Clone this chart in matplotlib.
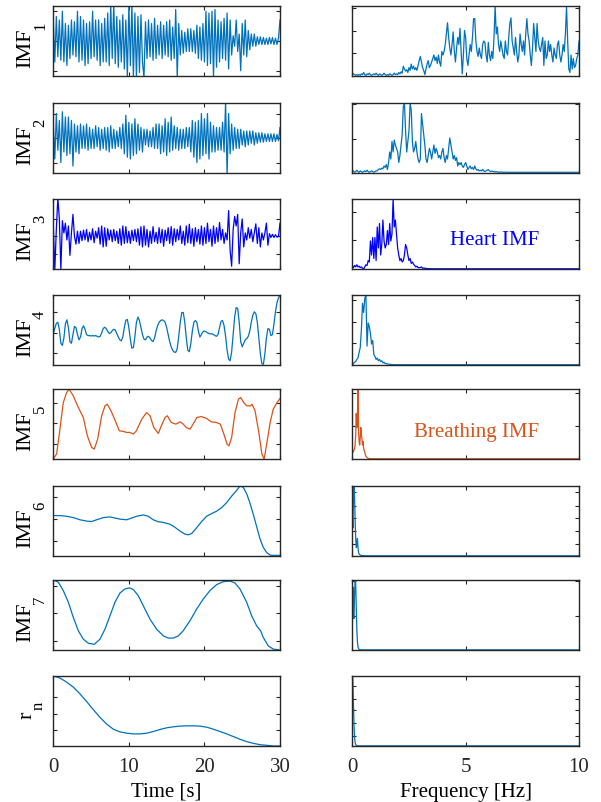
import matplotlib
matplotlib.use("Agg")
import matplotlib.pyplot as plt
import numpy as np

plt.rcParams['font.family'] = ['Liberation Serif', 'DejaVu Serif']
plt.rcParams['font.size'] = 15

BLUE = '#0072BD'
PURE_BLUE = '#0000FF'
ORANGE = '#D95319'
FRAME = '#262626'

# ---- time-domain IMFs (0..30 s) ----
imf1 = [0.55, -0.6, 0.7, -0.45, 0.6,
        -0.55, 0.85, -0.6, 0.5, -0.7,
        0.45, -0.5, 0.6, -0.4, 0.55,
        -0.45, 0.85, -0.6, 0.7, -0.55,
        0.6, -0.7, 0.5, -0.65, 0.55,
        -0.5, 0.85, -0.45, 0.6, -0.55,
        0.6, -0.7, 0.5, -0.6, 0.65,
        -0.6, 0.8, -0.7, 1.05, -0.5,
        1.05, -0.65, 0.7, -0.75, 0.6,
        -0.6, 0.75, -0.8, 0.6, -1.05,
        1.05, -0.7, 1.05, -1.05, 0.8,
        -1.05, 0.7, -0.9, 0.75, -0.6,
        -1.05, 0.55, -0.5, 0.6, -0.45,
        0.5, -0.55, 0.65, -0.5, 0.45,
        -0.4, 0.55, -0.5, 0.45, -0.4,
        0.55, -0.45, 0.6, -0.55, 0.4,
        -0.5, 0.9, -1.05, 0.5, -0.4,
        0.3, -0.35, 0.25, -0.3, 0.35,
        -0.3, 0.35, -0.3, 0.3, -0.35,
        0.45, -0.5, 0.4, -0.55, 0.5,
        -0.6, 0.85, -0.7, 0.8, -0.65,
        0.85, -1.05, 0.9, -0.75, 0.6,
        -0.6, 0.55, -0.5, 0.65, -0.55,
        0.8, -0.8, 0.6, -0.4, 0.15,
        -0.15, 0.6, -0.3, 0.2, -0.85,
        0.5, -0.4, 0.6, -0.45, 0.3,
        -0.25, 0.2, -0.15, 0.2, -0.15,
        0.12, -0.1, 0.12, -0.1, 0.1,
        -0.1, 0.08, -0.1, 0.1, -0.08,
        0.1, -0.1, 0.08, -0.1, 0.08,
        0.6]

imf2 = [0.4, -0.6, 0.7, -0.35, 0.5,
        -0.7, 0.75, -0.4, 0.6, -0.5,
        0.6, -0.45, 0.5, -0.8, 0.4,
        -0.4, 0.35, -0.45, 0.4, -0.3,
        0.35, -0.3, 0.4, -0.35, 0.3,
        -0.3, 0.25, -0.3, 0.35, -0.25,
        0.3, -0.35, 0.25, -0.3, 0.3,
        -0.35, 0.3, -0.4, 0.35, -0.3,
        0.25, -0.3, 0.2, -0.25, 0.3,
        -0.3, 0.4, -0.45, 0.65, -0.55,
        0.45, -0.6, 0.4, -0.5, 0.55,
        -0.45, 0.4, -0.35, 0.3, -0.4,
        0.25, -0.2, 0.25, -0.25, 0.2,
        -0.25, 0.3, -0.3, 0.4, -0.3,
        0.4, -0.45, 0.35, -0.4, 0.55,
        -0.5, 0.45, -0.4, 0.6, -0.35,
        0.35, -0.3, 0.3, -0.35, 0.25,
        -0.3, 0.25, -0.3, 0.3, -0.25,
        0.3, -0.4, 0.5, -0.55, 0.45,
        -0.7, 0.5, -0.6, 0.7, -0.5,
        0.55, -0.45, 0.7, -0.6, 0.45,
        -0.4, 0.35, -0.4, 0.3, -0.35,
        0.3, -0.35, 0.45, -0.4, 1.05,
        -1.05, 0.7, -0.45, 0.4, -0.35,
        0.3, -0.3, 0.25, -0.3, 0.25,
        -0.2, 0.2, -0.25, 0.2, -0.2,
        0.2, -0.15, 0.2, -0.2, 0.15,
        -0.15, 0.15, -0.12, 0.15, -0.12,
        0.12, -0.1, 0.12, -0.1, 0.12,
        -0.1, 0.12, -0.1, 0.1, -0.08,
        0.3]

imf3 = [0.3, -0.95, 0.2, 1.1, 0.5,
        -0.95, 0.45, 0.1, 0.38, -0.1,
        0.3, -0.54, 0.1, 0.63, 0.0,
        -0.22, 0.15, -0.2, 0.15, -0.12,
        0.18, -0.1, 0.2, -0.15, 0.12,
        -0.1, 0.22, -0.18, 0.15, -0.05,
        0.25, -0.22, 0.3, -0.3, 0.25,
        -0.28, 0.22, -0.1, 0.18, -0.15,
        0.2, -0.12, 0.15, -0.2, 0.22,
        -0.25, 0.3, -0.2, 0.28, -0.18,
        0.15, -0.2, 0.18, -0.12, 0.2,
        -0.15, 0.22, -0.25, 0.28, -0.3,
        0.3, -0.25, 0.2, -0.3, 0.15,
        -0.2, 0.28, -0.15, 0.12, -0.2,
        0.25, -0.18, 0.2, -0.28, 0.18,
        -0.12, 0.25, -0.2, 0.28, -0.25,
        0.22, -0.15, 0.2, -0.1, 0.3,
        -0.2, 0.15, -0.25, 0.3, -0.18,
        0.35, -0.2, 0.22, -0.28, 0.25,
        -0.15, 0.2, -0.22, 0.3, -0.25,
        0.25, -0.2, 0.38, -0.15, 0.2,
        -0.28, 0.3, -0.2, 0.25, -0.15,
        0.4, -0.1, 0.2, -0.2, 0.1,
        -0.1, 0.74, -0.4, -0.85, 0.2,
        0.57, 0.3, 0.63, -0.78, 0.1,
        0.5, -0.3, 0.1, -0.1, 0.25,
        -0.05, 0.2, -0.15, 0.1, 0.36,
        -0.2, 0.25, -0.3, 0.1, -0.1,
        0.1, 0.38, -0.25, 0.08, -0.03,
        0.06, -0.03, 0.05, -0.02, 0.0,
        0.38]

imf4 = [-0.02, 0.12, 0.27, 0.3, 0.1,
        -0.3, -0.36, -0.15, 0.25, 0.37,
        0.15, -0.25, -0.3, -0.05, 0.18,
        0.15, -0.05, -0.2, -0.12, 0.12,
        0.2, 0.1, -0.05, -0.08, -0.08,
        -0.09, -0.08, -0.09, -0.08, -0.1,
        -0.12, -0.1, 0.0, 0.12, 0.16,
        0.12, 0.04, -0.02, 0.0, 0.06,
        0.1, 0.08, -0.02, -0.12, -0.2,
        -0.23, -0.12, 0.15, 0.36, 0.38,
        0.15, -0.2, -0.44, -0.42, -0.1,
        0.3, 0.45, 0.35, 0.15, -0.05,
        -0.18, -0.2, -0.12, -0.1, -0.15,
        -0.22, -0.25, -0.15, 0.05, 0.2,
        0.3, 0.35, 0.37, 0.35, 0.3,
        0.15, -0.05, -0.25, -0.4, -0.5,
        -0.55, -0.56, -0.45, -0.1, 0.3,
        0.58, 0.58, 0.3, -0.15, -0.5,
        -0.54, -0.3, 0.05, 0.3, 0.35,
        0.3, 0.05, -0.12, -0.05, 0.03,
        0.05, 0.03, 0.0, -0.02, -0.03,
        -0.03, -0.05, -0.08, -0.1, -0.05,
        0.15, 0.33, 0.35, 0.2, -0.1,
        -0.5, -0.75, -0.8, -0.55, -0.05,
        0.45, 0.72, 0.7, 0.3, -0.25,
        -0.4, -0.3, -0.2, -0.17, -0.1,
        0.05, 0.3, 0.5, 0.6, 0.55,
        0.3, -0.15, -0.6, -0.88, -0.9,
        -0.6, -0.15, 0.12, 0.1, -0.08,
        -0.05, 0.25, 0.6, 0.86, 1.0,
        1.08]

t5 = [0.0, 0.44, 0.88, 1.32, 1.76, 2.1, 2.65, 3.31, 3.97, 4.5,
      5.07, 5.42, 5.87, 6.4, 6.84, 7.15, 7.64, 8.2, 8.74, 9.26,
      9.7, 10.1, 10.6, 11.0, 11.7, 12.35, 12.8, 13.3, 13.9, 14.3,
      14.8, 15.1, 15.6, 16.2, 16.8, 17.2, 17.6, 18.1, 18.5, 19.0,
      19.6, 20.3, 20.9, 21.6, 22.1, 22.5, 23.0, 23.25, 23.6, 24.05,
      24.5, 24.8, 25.2, 25.6, 26.1, 26.3, 26.7, 27.2, 27.6, 27.9,
      28.2, 28.7, 29.1, 29.6, 30.0]
imf5 = [-1.75, -1.5, -0.28, 1.03, 1.52, 1.69, 1.36, 0.79, 0.3, -0.6,
        -1.18, -1.26, -0.77, 0.38, 0.87, 0.95, 0.62, 0.13, -0.36, -0.39,
        -0.44, -0.44, -0.52, -0.36, 0.21, 0.54, 0.38, -0.2, -0.49, -0.11,
        0.3, 0.38, 0.05, -0.03, 0.08, -0.03, -0.2, -0.28, -0.03, 0.3,
        0.34, 0.25, 0.08, 0.05, -0.03, -0.44, -1.02, -1.1, -0.69, 0.54,
        1.2, 1.28, 1.03, 0.87, 0.87, 0.95, 0.62, -0.44, -1.51, -1.75,
        -1.1, 0.05, 0.7, 1.03, 1.23]

t6 = [0.0, 0.88, 1.76, 2.65, 3.53, 4.41, 5.07, 5.73, 6.62, 7.5,
      8.16, 8.82, 9.7, 10.37, 11.03, 11.91, 12.57, 13.23, 13.9, 14.56,
      15.44, 16.1, 16.76, 17.42, 17.87, 18.31, 18.97, 19.63, 20.29, 20.95,
      21.61, 22.28, 22.94, 23.6, 24.26, 24.7, 25.14, 25.59, 26.03, 26.47,
      26.91, 27.35, 27.79, 28.23, 28.76, 29.33, 30.0]
imf6 = [0.14, 0.14, 0.11, 0.05, -0.05, -0.11, -0.13, -0.05, 0.05, 0.08,
        0.03, -0.02, -0.05, 0.03, 0.11, 0.17, 0.11, -0.05, -0.14, -0.17,
        -0.25, -0.39, -0.56, -0.70, -0.73, -0.67, -0.41, -0.13, 0.11, 0.23,
        0.34, 0.5, 0.73, 1.02, 1.28, 1.48, 1.42, 1.13, 0.7, 0.19,
        -0.36, -0.91, -1.3, -1.53, -1.66, -1.66, -1.66]

t7 = [0.0, 0.66, 1.32, 1.99, 2.65, 3.31, 3.97, 4.63, 5.43, 6.18,
      6.84, 7.5, 8.16, 8.82, 9.48, 10.06, 10.59, 11.25, 11.91, 12.79,
      13.67, 14.56, 15.22, 15.88, 16.54, 17.2, 18.09, 18.97, 19.85, 20.73,
      21.61, 22.5, 23.38, 24.04, 24.7, 25.59, 26.25, 26.91, 27.44, 27.79,
      28.45, 29.12, 30.0]
imf7 = [1.23, 1.15, 0.84, 0.41, -0.15, -0.64, -0.95, -1.1, -1.14, -0.95,
        -0.58, -0.09, 0.41, 0.75, 0.9, 0.94, 0.88, 0.65, 0.28, -0.21,
        -0.58, -0.83, -0.91, -0.91, -0.83, -0.64, -0.27, 0.16, 0.53, 0.84,
        1.06, 1.17, 1.19, 1.12, 0.9, 0.41, -0.09, -0.46, -0.64, -0.89,
        -1.2, -1.32, -1.35]

residue = [1.0, 0.971, 0.913, 0.841, 0.745, 0.635, 0.519, 0.409, 0.313, 0.24,
           0.202, 0.183, 0.173, 0.173, 0.183, 0.207, 0.236, 0.26, 0.274, 0.284,
           0.288, 0.288, 0.284, 0.269, 0.24, 0.207, 0.173, 0.135, 0.096, 0.063,
           0.038, 0.019, 0.01, 0.0, 0.0]

# ---- normalised spectra, sampled from 0 Hz at a fixed step ----
spec1 = [0.04, 0.03, 0.02, 0.01, 0.02, 0.01, 0.02, 0.01, 0.03, 0.02,
         0.05, 0.02, 0.01, 0.03, 0.02, 0.04, 0.02, 0.01, 0.02, 0.03,
         0.02, 0.04, 0.02, 0.01, 0.03, 0.02, 0.01, 0.02, 0.04, 0.02,
         0.01, 0.02, 0.01, 0.03, 0.02, 0.01, 0.02, 0.04, 0.02, 0.03,
         0.02, 0.05, 0.03, 0.06, 0.04, 0.14, 0.1, 0.07, 0.09, 0.05,
         0.12, 0.08, 0.17, 0.1, 0.14, 0.09, 0.12, 0.08, 0.15, 0.22,
         0.28, 0.2, 0.12, 0.08, 0.02, 0.1, 0.17, 0.22, 0.12, 0.15,
         0.2, 0.25, 0.3, 0.22, 0.27, 0.18, 0.3, 0.2, 0.14, 0.35,
         0.3, 0.35, 0.45, 0.6, 0.76, 0.55, 0.4, 0.3, 0.45, 0.63,
         0.35, 0.2, 0.4, 0.55, 0.45, 0.68, 0.35, 0.03, 0.3, 0.65,
         0.55, 0.25, 0.15, 0.3, 0.45, 0.35, 0.55, 0.82, 0.82, 0.5,
         0.35, 0.28, 0.4, 0.3, 0.25, 0.45, 0.5, 0.48, 0.3, 0.2,
         0.48, 0.3, 0.22, 0.35, 0.25, 0.55, 1.0, 0.6, 0.7, 0.45,
         0.35, 0.5, 0.4, 0.3, 0.25, 0.5, 0.35, 0.3, 0.55, 0.75,
         0.83, 0.5, 0.4, 0.3, 0.55, 0.35, 0.2, 0.3, 0.6, 0.45,
         0.35, 0.5, 0.3, 0.6, 0.82, 0.6, 0.5, 0.3, 0.15, 0.4,
         0.75, 0.55, 0.35, 0.75, 0.5, 0.4, 0.35, 0.45, 0.55, 0.15,
         0.5, 0.25, 0.3, 0.5, 0.35, 0.45, 0.3, 0.2, 0.4, 0.3,
         0.25, 0.45, 0.5, 0.3, 0.2, 0.3, 0.45, 0.35, 0.6, 1.0,
         0.5, 0.1, 0.05, 0.3, 0.1, 0.25, 0.12, 0.15, 0.25, 0.3,
         0.5]

spec2 = [0.02, 0.03, 0.01, 0.02, 0.04, 0.02, 0.01, 0.03, 0.02, 0.01,
         0.02, 0.03, 0.02, 0.04, 0.02, 0.01, 0.02, 0.03, 0.02, 0.01,
         0.02, 0.03, 0.03, 0.05, 0.06, 0.05, 0.07, 0.06, 0.1, 0.08,
         0.12, 0.05, 0.15, 0.3, 0.2, 0.45, 0.3, 0.47, 0.4, 0.35,
         0.3, 0.15, 0.25, 0.4, 0.55, 0.95, 1.0, 0.6, 0.3, 0.45,
         0.6, 1.0, 0.9, 0.45, 0.3, 0.35, 0.45, 0.3, 0.2, 0.15,
         0.2, 0.85, 0.7, 0.55, 0.4, 0.2, 0.15, 0.25, 0.35, 0.3,
         0.2, 0.3, 0.4, 0.28, 0.35, 0.3, 0.22, 0.25, 0.2, 0.3,
         0.35, 0.22, 0.15, 0.25, 0.2, 0.35, 0.5, 0.4, 0.3, 0.2,
         0.25, 0.18, 0.22, 0.1, 0.15, 0.12, 0.15, 0.1, 0.08, 0.12,
         0.15, 0.1, 0.05, 0.08, 0.1, 0.06, 0.08, 0.05, 0.1, 0.06,
         0.04, 0.05, 0.03, 0.04, 0.03, 0.05, 0.03, 0.02, 0.03, 0.04,
         0.05, 0.03, 0.02, 0.03, 0.02, 0.02, 0.015, 0.02, 0.015, 0.01,
         0.015, 0.01, 0.015, 0.01, 0.01, 0.012, 0.01, 0.01, 0.01, 0.01,
         0.01]

spec3 = [0.04, 0.02, 0.05, 0.03, 0.06, 0.03, 0.04, 0.02, 0.03, 0.01,
         0.0, 0.03, 0.06, 0.05, 0.12, 0.1, 0.4, 0.2, 0.45, 0.15,
         0.45, 0.12, 0.6, 0.3, 0.65, 0.2, 0.35, 0.7, 0.4, 0.3,
         0.35, 0.55, 0.35, 0.65, 0.4, 0.5, 1.0, 0.6, 0.7, 0.5,
         0.3, 0.2, 0.12, 0.15, 0.1, 0.12, 0.2, 0.35, 0.3, 0.2,
         0.12, 0.15, 0.08, 0.1, 0.07, 0.05, 0.03, 0.04, 0.02, 0.02,
         0.02, 0.03, 0.01, 0.015, 0.01, 0.008, 0.006, 0.005, 0.004, 0.004,
         0.003]

spec4 = [0.0, 0.02, 0.04, 0.05, 0.08, 0.1, 0.18, 0.25, 0.5, 0.88,
         0.75, 0.95, 1.0, 0.27, 0.6, 0.55, 0.45, 0.3, 0.35, 0.15,
         0.12, 0.08, 0.1, 0.06, 0.08, 0.05, 0.06, 0.03, 0.04, 0.02,
         0.02, 0.015, 0.01, 0.01, 0.008, 0.006, 0.005, 0.005, 0.004, 0.004,
         0.004]

spec5 = [0.12, 0.12, 0.1, 0.13, 0.15, 0.2, 0.35, 0.65, 0.45, 0.6,
         1.0, 0.4, 0.25, 0.2, 0.3, 0.45, 0.35, 0.3, 0.2, 0.25,
         0.15, 0.12, 0.1, 0.06, 0.04, 0.03, 0.02, 0.015, 0.01, 0.008,
         0.006, 0.005, 0.005, 0.004, 0.004, 0.004, 0.003, 0.003, 0.003, 0.003,
         0.003]

spec6 = [0.6, 0.4, 0.8, 1.0, 0.85, 0.5, 0.25, 0.12, 0.15, 0.25,
         0.12, 0.05, 0.03, 0.02, 0.015, 0.01, 0.008, 0.006, 0.005, 0.005,
         0.004, 0.004, 0.003, 0.003, 0.003]

spec7 = [0.3, 0.9, 0.5, 0.45, 0.8, 1.0, 0.95, 0.6, 0.3, 0.12,
         0.05, 0.02, 0.01, 0.006, 0.004, 0.003, 0.003, 0.002, 0.002, 0.002,
         0.002]

spec8 = [1.0, 0.95, 0.6, 0.3, 0.12, 0.05, 0.02, 0.01, 0.005, 0.003,
         0.002, 0.002, 0.002]

spec_steps = [0.05, 0.05, 0.05, 0.05, 0.025, 0.025, 0.025, 0.025]


def freq_axis(vals, step):
    f = np.arange(len(vals)) * step
    if f[-1] < 10:
        # flat remainder of the spectrum up to 10 Hz
        return np.append(f, 10.0), np.append(vals, vals[-1])
    return f, np.asarray(vals)


lin = lambda v: np.linspace(0, 30, len(v))

signals = [(lin(imf1), imf1), (lin(imf2), imf2), (lin(imf3), imf3), (lin(imf4), imf4),
           (t5, imf5), (t6, imf6), (t7, imf7), (lin(residue), residue)]
spectra = [spec1, spec2, spec3, spec4, spec5, spec6, spec7, spec8]
colors = [BLUE, BLUE, PURE_BLUE, BLUE, ORANGE, BLUE, BLUE, BLUE]
# row label: main text and its subscript
labels = [('IMF', '1'), ('IMF', '2'), ('IMF', '3'), ('IMF', '4'),
          ('IMF', '5'), ('IMF', '6'), ('IMF', '7'), ('r', 'n')]

left_ylim = [(-1, 1), (-1, 1), (-0.93, 1.07), (-0.92, 1.08),
             (-1.75, 1.7), (-1.69, 1.48), (-1.35, 1.23), (0, 1)]
left_yticks = [[-0.85, 0, 0.85], [-0.7, 0, 0.7], [-0.5, 0, 0.5], [-0.59, 0, 0.59],
               [-1, 0, 1], [-1, 0, 1], [-1, 0, 1], [0.23, 0.46, 0.70]]
right_yticks = [[0.33, 0.64, 0.97], [0.49, 0.98], [0.41, 0.81], [0.32, 0.62, 0.93],
                [0.47, 0.95], [0.17, 0.36, 0.54, 0.72, 0.91], [0.48, 0.98],
                [0.15, 0.33, 0.51, 0.67, 0.86]]

W, H = 601, 803
fig = plt.figure(figsize=(W / 100, H / 100), dpi=100)

row_top = [7, 104, 200, 296, 390, 487, 581, 677]
row_h = 70
col_x = [53.3, 352.3]
col_w = 226.7


def style(ax):
    for s in ax.spines.values():
        s.set_color(FRAME)
        s.set_linewidth(1.0)
    ax.tick_params(direction='in', top=True, right=True, length=3, width=0.8,
                   colors=FRAME, labelcolor='#262626', pad=8)
    ax.set_yticklabels([])


def px(x, y):
    return x / W, 1 - y / H


for i in range(8):
    bottom = 1 - (row_top[i] + row_h) / H
    axl = fig.add_axes([col_x[0] / W, bottom, col_w / W, row_h / H])
    axr = fig.add_axes([col_x[1] / W, bottom, col_w / W, row_h / H])

    t, y = signals[i]
    axl.plot(t, y, color=colors[i], lw=0.9)
    axl.set_xlim(0, 30)
    axl.set_ylim(*left_ylim[i])
    axl.set_xticks([0, 10, 20, 30])
    axl.set_yticks(left_yticks[i])
    style(axl)

    # rotated row label with a dropped subscript
    cy = row_top[i] + row_h / 2
    main, sub = labels[i]
    if main == 'IMF':
        fig.text(*px(26, cy + 6), main, rotation=90, ha='center', va='center', fontsize=16)
        fig.text(*px(40, cy - 16), sub, rotation=90, ha='center', va='center', fontsize=12)
    else:
        fig.text(*px(27, cy + 3), main, rotation=90, ha='center', va='center', fontsize=16)
        fig.text(*px(39, cy - 6), sub, rotation=90, ha='center', va='center', fontsize=12)

    f, p = freq_axis(spectra[i], spec_steps[i])
    axr.plot(f, p, color=colors[i], lw=0.9)
    axr.set_xlim(0, 10)
    axr.set_ylim(0, 1)
    axr.set_xticks([0, 5, 10])
    axr.set_yticks(right_yticks[i])
    style(axr)

    if i < 7:
        axl.set_xticklabels([])
        axr.set_xticklabels([])
    else:
        axl.set_xlabel('Time [s]', labelpad=4)
        axr.set_xlabel('Frequency [Hz]', labelpad=4)

    if i == 2:
        axr.text(0.63, 0.42, 'Heart IMF', color=PURE_BLUE, transform=axr.transAxes,
                 ha='center', va='center')
    if i == 4:
        axr.text(0.546, 0.39, 'Breathing IMF', color=ORANGE, transform=axr.transAxes,
                 ha='center', va='center')

fig.savefig('out.png', dpi=100)
